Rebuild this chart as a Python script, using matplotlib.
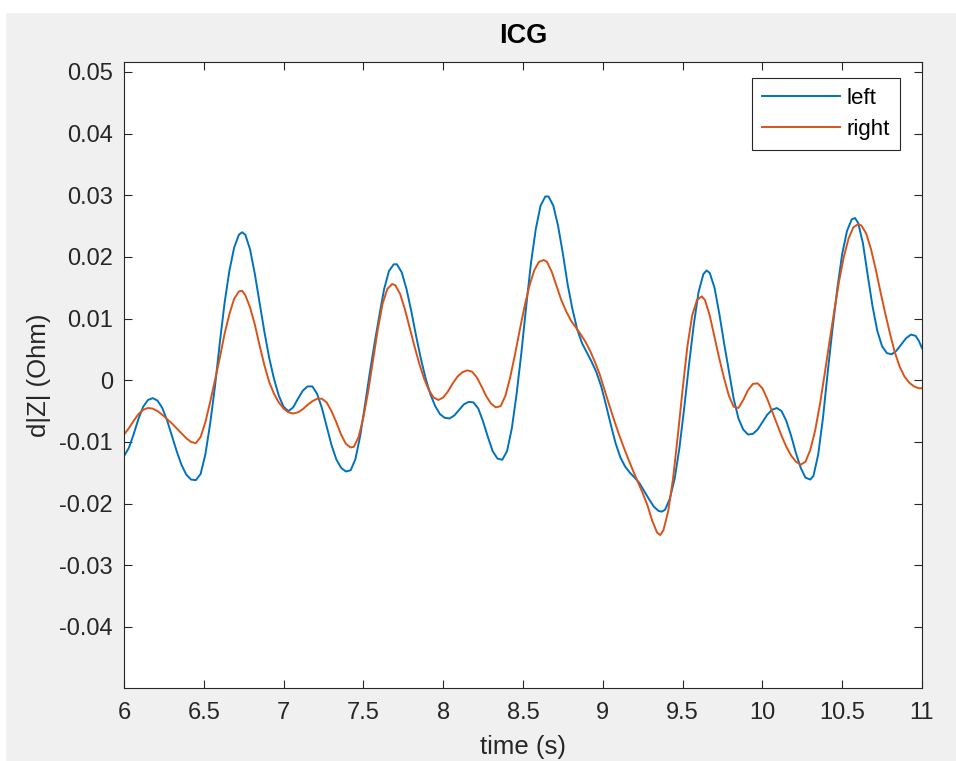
"""ICG impedance derivative, left vs right."""

import matplotlib.pyplot as plt
from matplotlib.patches import Rectangle

plt.rcParams["font.family"] = ["Liberation Sans", "DejaVu Sans"]

# left channel (blue)
t_left = [
    6.00, 6.03, 6.06, 6.09, 6.12, 6.15, 6.18, 6.21, 6.24, 6.27, 6.30, 6.33,
    6.36, 6.39, 6.42, 6.45, 6.48, 6.51, 6.54, 6.57, 6.60, 6.63, 6.66, 6.69,
    6.72, 6.74, 6.76, 6.79, 6.82, 6.85, 6.88, 6.91, 6.94, 6.97, 7.00, 7.03,
    7.06, 7.09, 7.12, 7.15, 7.18, 7.21, 7.24, 7.27, 7.30, 7.33, 7.36, 7.39,
    7.42, 7.45, 7.48, 7.51, 7.54, 7.57, 7.60, 7.63, 7.66, 7.69, 7.71, 7.74,
    7.77, 7.80, 7.83, 7.86, 7.89, 7.92, 7.95, 7.98, 8.01, 8.04, 8.07, 8.10,
    8.13, 8.16, 8.19, 8.22, 8.25, 8.28, 8.31, 8.34, 8.37, 8.40, 8.43, 8.46,
    8.49, 8.52, 8.55, 8.58, 8.61, 8.64, 8.66, 8.69, 8.72, 8.75, 8.78, 8.81,
    8.84, 8.87, 8.90, 8.93, 8.96, 8.99, 9.02, 9.05, 9.08, 9.11, 9.14, 9.17,
    9.20, 9.23, 9.26, 9.29, 9.32, 9.35, 9.37, 9.39, 9.42, 9.45, 9.48, 9.51,
    9.54, 9.57, 9.60, 9.63, 9.65, 9.67, 9.70, 9.73, 9.76, 9.79, 9.82, 9.85,
    9.88, 9.91, 9.94, 9.97, 10.00, 10.03, 10.06, 10.09, 10.12, 10.15, 10.18,
    10.21, 10.24, 10.27, 10.30, 10.32, 10.35, 10.38, 10.41, 10.44, 10.47,
    10.50, 10.53, 10.56, 10.58, 10.60, 10.63, 10.66, 10.69, 10.72, 10.75,
    10.78, 10.81, 10.84, 10.87, 10.90, 10.93, 10.96, 10.98, 11.00,
]
z_left = [
    -0.0123, -0.0110, -0.0088, -0.0063, -0.0043, -0.0032, -0.0029, -0.0033,
    -0.0045, -0.0065, -0.0090, -0.0115, -0.0137, -0.0153, -0.0161, -0.0162,
    -0.0152, -0.0120, -0.0070, -0.0010, 0.0060, 0.0125, 0.0177, 0.0215,
    0.0236, 0.0240, 0.0236, 0.0212, 0.0172, 0.0125, 0.0078, 0.0036,
    0.0002, -0.0025, -0.0043, -0.0050, -0.0044, -0.0030, -0.0017, -0.0010,
    -0.0010, -0.0022, -0.0045, -0.0075, -0.0105, -0.0128, -0.0142, -0.0148,
    -0.0146, -0.0128, -0.0090, -0.0040, 0.0012, 0.0060, 0.0105, 0.0148,
    0.0177, 0.0188, 0.0188, 0.0175, 0.0148, 0.0112, 0.0072, 0.0035,
    0.0003, -0.0023, -0.0042, -0.0055, -0.0061, -0.0062, -0.0057, -0.0048,
    -0.0039, -0.0035, -0.0036, -0.0046, -0.0067, -0.0092, -0.0115, -0.0127,
    -0.0129, -0.0115, -0.0078, -0.0022, 0.0045, 0.0120, 0.0190, 0.0245,
    0.0283, 0.0298, 0.0298, 0.0283, 0.0250, 0.0205, 0.0155, 0.0115,
    0.0082, 0.0060, 0.0045, 0.0030, 0.0013, -0.0010, -0.0040, -0.0072,
    -0.0102, -0.0125, -0.0140, -0.0150, -0.0158, -0.0167, -0.0180, -0.0193,
    -0.0205, -0.0212, -0.0213, -0.0210, -0.0192, -0.0160, -0.0110, -0.0045,
    0.0025, 0.0090, 0.0143, 0.0172, 0.0178, 0.0174, 0.0150, 0.0108,
    0.0060, 0.0015, -0.0030, -0.0062, -0.0080, -0.0088, -0.0087, -0.0080,
    -0.0068, -0.0056, -0.0048, -0.0045, -0.0050, -0.0066, -0.0090,
    -0.0118, -0.0142, -0.0158, -0.0161, -0.0155, -0.0120, -0.0060, 0.0015,
    0.0085, 0.0150, 0.0205, 0.0242, 0.0261, 0.0263, 0.0255, 0.0222,
    0.0170, 0.0120, 0.0080, 0.0055, 0.0044, 0.0042, 0.0048, 0.0058,
    0.0068, 0.0074, 0.0072, 0.0064, 0.0052,
]

# right channel (orange)
t_right = [
    6.00, 6.03, 6.06, 6.09, 6.12, 6.15, 6.18, 6.21, 6.24, 6.27, 6.30, 6.33,
    6.36, 6.39, 6.42, 6.45, 6.48, 6.51, 6.54, 6.57, 6.60, 6.63, 6.66, 6.69,
    6.72, 6.74, 6.76, 6.79, 6.82, 6.85, 6.88, 6.91, 6.94, 6.97, 7.00, 7.03,
    7.06, 7.09, 7.12, 7.15, 7.18, 7.21, 7.24, 7.27, 7.30, 7.33, 7.36, 7.39,
    7.42, 7.44, 7.47, 7.50, 7.53, 7.56, 7.59, 7.62, 7.65, 7.68, 7.70, 7.73,
    7.76, 7.79, 7.82, 7.85, 7.88, 7.91, 7.94, 7.97, 8.00, 8.03, 8.06, 8.09,
    8.12, 8.15, 8.18, 8.21, 8.24, 8.27, 8.30, 8.33, 8.36, 8.39, 8.42, 8.45,
    8.48, 8.51, 8.54, 8.57, 8.60, 8.63, 8.65, 8.68, 8.71, 8.74, 8.77, 8.80,
    8.83, 8.86, 8.89, 8.92, 8.95, 8.98, 9.01, 9.04, 9.07, 9.10, 9.13, 9.16,
    9.19, 9.22, 9.25, 9.28, 9.31, 9.34, 9.36, 9.38, 9.41, 9.44, 9.47, 9.50,
    9.53, 9.56, 9.59, 9.62, 9.64, 9.67, 9.70, 9.73, 9.76, 9.79, 9.82, 9.85,
    9.88, 9.91, 9.94, 9.97, 10.00, 10.03, 10.06, 10.09, 10.12, 10.15, 10.18,
    10.21, 10.24, 10.27, 10.30, 10.33, 10.36, 10.39, 10.42, 10.45, 10.48,
    10.51, 10.54, 10.57, 10.60, 10.62, 10.65, 10.68, 10.71, 10.74, 10.77,
    10.80, 10.83, 10.86, 10.89, 10.92, 10.95, 10.98, 11.00,
]
z_right = [
    -0.0088, -0.0078, -0.0066, -0.0055, -0.0048, -0.0045, -0.0046, -0.0050,
    -0.0056, -0.0063, -0.0070, -0.0078, -0.0086, -0.0094, -0.0100, -0.0102,
    -0.0092, -0.0068, -0.0035, 0.0000, 0.0036, 0.0075, 0.0107, 0.0132,
    0.0144, 0.0145, 0.0138, 0.0118, 0.0090, 0.0056, 0.0024, -0.0003,
    -0.0022, -0.0036, -0.0046, -0.0052, -0.0054, -0.0052, -0.0047, -0.0040,
    -0.0034, -0.0030, -0.0030, -0.0036, -0.0050, -0.0068, -0.0088, -0.0103,
    -0.0109, -0.0108, -0.0092, -0.0060, -0.0018, 0.0032, 0.0082, 0.0124,
    0.0148, 0.0156, 0.0154, 0.0140, 0.0115, 0.0085, 0.0055, 0.0027,
    0.0003, -0.0016, -0.0028, -0.0032, -0.0028, -0.0018, -0.0005, 0.0006,
    0.0013, 0.0016, 0.0014, 0.0005, -0.0010, -0.0026, -0.0038, -0.0044,
    -0.0042, -0.0025, 0.0005, 0.0042, 0.0082, 0.0120, 0.0153, 0.0178,
    0.0192, 0.0195, 0.0192, 0.0176, 0.0153, 0.0130, 0.0112, 0.0097,
    0.0086, 0.0075, 0.0063, 0.0048, 0.0030, 0.0010, -0.0015, -0.0040,
    -0.0064, -0.0087, -0.0108, -0.0128, -0.0147, -0.0165, -0.0183, -0.0203,
    -0.0228, -0.0247, -0.0251, -0.0243, -0.0212, -0.0160, -0.0090, -0.0015,
    0.0055, 0.0105, 0.0130, 0.0136, 0.0130, 0.0105, 0.0070, 0.0035,
    0.0003, -0.0025, -0.0043, -0.0045, -0.0032, -0.0016, -0.0006, -0.0005,
    -0.0013, -0.0030, -0.0050, -0.0070, -0.0090, -0.0108, -0.0122,
    -0.0132, -0.0137, -0.0132, -0.0113, -0.0082, -0.0040, 0.0010, 0.0062,
    0.0112, 0.0160, 0.0200, 0.0230, 0.0248, 0.0253, 0.0251, 0.0238,
    0.0213, 0.0180, 0.0143, 0.0108, 0.0075, 0.0045, 0.0022, 0.0006,
    -0.0004, -0.0010, -0.0013, -0.0013,
]

x_ticks = [6, 6.5, 7, 7.5, 8, 8.5, 9, 9.5, 10, 10.5, 11]
x_tick_labels = ["6", "6.5", "7", "7.5", "8", "8.5", "9", "9.5", "10", "10.5", "11"]
y_ticks = [-0.04, -0.03, -0.02, -0.01, 0, 0.01, 0.02, 0.03, 0.04, 0.05]
y_tick_labels = ["-0.04", "-0.03", "-0.02", "-0.01", "0",
                 "0.01", "0.02", "0.03", "0.04", "0.05"]

fig = plt.figure(figsize=(9.56, 7.61), dpi=100, facecolor="#f0f0f0")
# white strip of the window frame
fig.patches.append(Rectangle((0, 1 - 12 / 761), 1, 12 / 761,
                             transform=fig.transFigure, color="white", zorder=0))
fig.patches.append(Rectangle((0, 0), 5 / 956, 1,
                             transform=fig.transFigure, color="white", zorder=0))

ax = fig.add_axes([124 / 956, 1 - 688 / 761, 798 / 956, 626 / 761])
ax.set_facecolor("white")

ax.plot(t_left, z_left, color="#0072BD", lw=1.4, label="left")
ax.plot(t_right, z_right, color="#D95319", lw=1.4, label="right")

ax.set_xlim(6, 11)
ax.set_ylim(-0.0499, 0.0516)
ax.set_xticks(x_ticks)
ax.set_xticklabels(x_tick_labels)
ax.set_yticks(y_ticks)
ax.set_yticklabels(y_tick_labels)

ax.tick_params(direction="in", length=6, width=0.8, top=True, right=True,
               labelsize=17, colors="#262626")
ax.tick_params(axis="x", pad=10)
ax.tick_params(axis="y", pad=8)
for sp in ax.spines.values():
    sp.set_color("#262626")
    sp.set_linewidth(0.8)

ax.set_title("ICG", fontsize=19.5, fontweight="bold", color="#000000", pad=13.5)
ax.set_xlabel("time (s)", fontsize=18.5, color="#262626", labelpad=8)
ax.set_ylabel("d|Z| (Ohm)", fontsize=18.5, color="#262626", labelpad=6)

leg = ax.legend(loc="upper right", bbox_to_anchor=(0.9724, 0.9744),
                fancybox=False, edgecolor="#262626", framealpha=1,
                fontsize=16, handlelength=3.5, handletextpad=0.3,
                borderpad=0.45, labelspacing=0.45, borderaxespad=0)
leg.get_frame().set_linewidth(0.8)

fig.savefig("out.png", dpi=100, facecolor=fig.get_facecolor())
plt.close(fig)
